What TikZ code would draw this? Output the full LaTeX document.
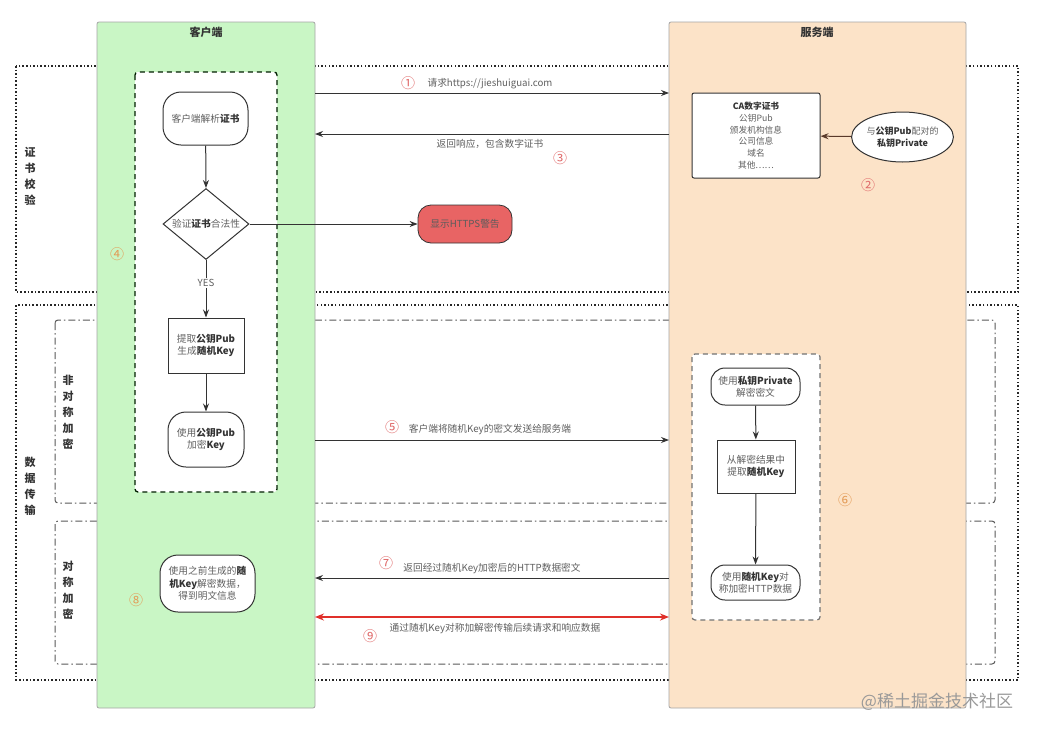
\documentclass[tikz,border=0pt]{standalone}
\usepackage{fontspec}
\setmainfont{Noto Sans CJK SC}
\usetikzlibrary{shapes.geometric,arrows.meta}
\definecolor{lanegreen}{HTML}{C9F6C5}
\definecolor{laneorange}{HTML}{FCE3C8}
\definecolor{txt}{HTML}{606060}
\definecolor{dark}{HTML}{333333}
\definecolor{numred}{HTML}{E06A6A}
\definecolor{numorange}{HTML}{E39A55}
\definecolor{warnred}{HTML}{E86464}
\definecolor{arrred}{HTML}{E0302A}
\definecolor{brownline}{HTML}{5A3A2A}
\newcommand\hb[1]{\textbf{\color{dark}#1}}
\tikzset{
  base/.style={font=\fontsize{9.7}{12.5}\selectfont, text=txt},
  lane/.style={draw=black!35, line width=0.8pt, rounded corners=2pt, inner sep=0pt, outer sep=0pt},
  lanetitle/.style={font=\fontsize{11}{13}\selectfont\bfseries, text=dark},
  dotbox/.style={draw=black!85, line width=1.5pt, dash pattern=on 1.5pt off 2.1pt},
  dashdotbox/.style={draw=black!65, line width=1pt, dash pattern=on 7pt off 3pt on 1.5pt off 3pt, rounded corners=3pt},
  clientdash/.style={draw=black!70!green!40!black, line width=1.3pt, dash pattern=on 5pt off 4pt, fill=white, rounded corners=3pt},
  serverdash/.style={draw=black!55, line width=1.2pt, dash pattern=on 5pt off 4pt, fill=white, rounded corners=3pt},
  proc/.style={base, draw=black!80, line width=1pt, fill=white, align=center, inner sep=2pt},
  term/.style={proc, rounded corners=16pt},
  arr/.style={draw=black!80, line width=1pt, -{Stealth[length=8pt,width=6pt]}},
  msg/.style={base, inner sep=1pt},
  num/.style={font=\fontsize{14}{14}\selectfont, text=numred, inner sep=0pt},
  numo/.style={font=\fontsize{14}{14}\selectfont, text=numorange, inner sep=0pt},
  sidelabel/.style={font=\fontsize{11}{16}\selectfont\bfseries, text=dark, align=center, inner sep=0pt},
}
\begin{document}
\begin{tikzpicture}[x=1pt,y=-1pt]
\useasboundingbox[fill=white] (0,0) rectangle (1037,734);

% phase frames
\draw[dotbox] (16,66) rectangle (1018,292);
\draw[dotbox] (16,305) rectangle (1018,680);
\draw[dashdotbox] (55,320) rectangle (995,503);
\draw[dashdotbox] (55,521) rectangle (995,664);

\node[sidelabel] (lcert) at (30,176) {证\\书\\校\\验};
\node[sidelabel] (ldata) at (30,486) {数\\据\\传\\输};
\node[sidelabel] (lasym) at (68,412) {非\\对\\称\\加\\密};
\node[sidelabel] (lsym) at (68,590) {对\\称\\加\\密};

% lanes
\node[lane, fill=lanegreen, minimum width=218pt, minimum height=686pt] (client) at (206,365) {};
\node[lane, fill=laneorange, minimum width=297pt, minimum height=686pt] (server) at (817.5,365) {};
\node[lanetitle] (tclient) at (206,32) {客户端};
\node[lanetitle] (tserver) at (817,32) {服务端};

% inner dashed groups
\draw[clientdash] (135,72) rectangle (277,492);
\draw[serverdash] (692,354) rectangle (820,620);

% client flow
\node[term, minimum width=85pt, minimum height=53pt, rounded corners=18pt] (parse) at (205.5,118.5) {客户端解析\hb{证书}};
\node[diamond, draw=black!80, line width=1pt, fill=white, minimum width=86pt, minimum height=71pt, inner sep=0pt] (check) at (206,224) {};
\node[base] (checkt) at (check.center) {验证\hb{证书}合法性};
\node[draw=dark, line width=0.8pt, fill=warnred, rounded corners=13pt, minimum width=94pt, minimum height=38pt, base, text=dark!80] (warn) at (465,224) {显示HTTPS警告};
\node[proc, minimum width=76pt, minimum height=55pt] (extract) at (206,345.5) {提取\hb{公钥Pub}\\生成\hb{随机Key}};
\node[term, minimum width=76pt, minimum height=55pt, rounded corners=18pt] (encrypt) at (206,439.5) {使用\hb{公钥Pub}\\加密\hb{Key}};
\node[term, minimum width=95pt, minimum height=57pt, rounded corners=18pt] (clientdec) at (207.5,583.5) {使用之前生成的\hb{随}\\\hb{机Key}解密数据，\\得到明文信息};

\draw[arr] (parse) -- (check.north);
\draw[arr] (check.east) -- (warn.west);
\draw[arr] (check.south) -- (extract.north);
\node[base, fill=white, inner sep=1pt] (yes) at (206,283) {YES};
\draw[arr] (extract) -- (encrypt);

% server flow
\node[proc, minimum width=128pt, minimum height=85pt, rounded corners=2pt, font=\fontsize{8.7}{11.8}\selectfont] (cert) at (756,135.5) {\hb{CA数字证书}\\公钥Pub\\颁发机构信息\\公司信息\\域名\\其他……};
\node[ellipse, draw=black!80, line width=1pt, fill=white, minimum width=95pt, minimum height=50pt, inner sep=0pt, base, font=\fontsize{9}{12}\selectfont, align=center] (priv) at (902.5,137) {与\hb{公钥Pub}配对的\\\hb{私钥Private}};
\draw[arr, draw=brownline] (priv) -- (cert);

\node[term, minimum width=89pt, minimum height=37pt, rounded corners=14pt] (sdec) at (755.5,386.5) {使用\hb{私钥Private}\\解密密文};
\node[proc, minimum width=78pt, minimum height=53pt] (getkey) at (756,466.5) {从解密结果中\\提取\hb{随机Key}};
\node[term, minimum width=89pt, minimum height=35pt, rounded corners=14pt] (senc) at (755.5,582.5) {使用\hb{随机Key}对\\称加密HTTP数据};
\draw[arr] (sdec) -- (getkey);
\draw[arr] (getkey) -- (senc);

% messages between lanes
\coordinate (c1) at (315,93);  \coordinate (s1) at (669,93);
\coordinate (c3) at (315,134); \coordinate (s3) at (669,134);
\coordinate (c5) at (315,440); \coordinate (s5) at (669,440);
\coordinate (c7) at (315,578); \coordinate (s7) at (669,578);
\coordinate (c9) at (315,617); \coordinate (s9) at (669,617);

\draw[arr] (c1) -- (s1);
\draw[arr] (s3) -- (c3);
\draw[arr] (c5) -- (s5);
\draw[arr] (s7) -- (c7);
\draw[draw=arrred, line width=2pt, {Stealth[length=9pt,width=7pt]}-{Stealth[length=9pt,width=7pt]}] (c9) -- (s9);

\node[msg] (m1) at (490,84) {请求https://jieshuiguai.com};
\node[msg] (m3) at (490,144) {返回响应，包含数字证书};
\node[msg] (m5) at (490,430) {客户端将随机Key的密文发送给服务端};
\node[msg] (m7) at (492,569) {返回经过随机Key加密后的HTTP数据密文};
\node[msg] (m9) at (495,629) {通过随机Key对称加解密传输后续请求和响应数据};

\node[num] (n1) at (408,83) {①};
\node[num] (n2) at (868,185) {②};
\node[num] (n3) at (560,158) {③};
\node[numo] (n4) at (117,254) {④};
\node[num] (n5) at (392,427) {⑤};
\node[numo] (n6) at (845,500) {⑥};
\node[num] (n7) at (386,563) {⑦};
\node[numo] (n8) at (136,600) {⑧};
\node[num] (n9) at (370,636) {⑨};

\node[font=\fontsize{17}{17}\selectfont, text=black!40, inner sep=0pt] (wm) at (937,702) {@稀土掘金技术社区};
\end{tikzpicture}
\end{document}
